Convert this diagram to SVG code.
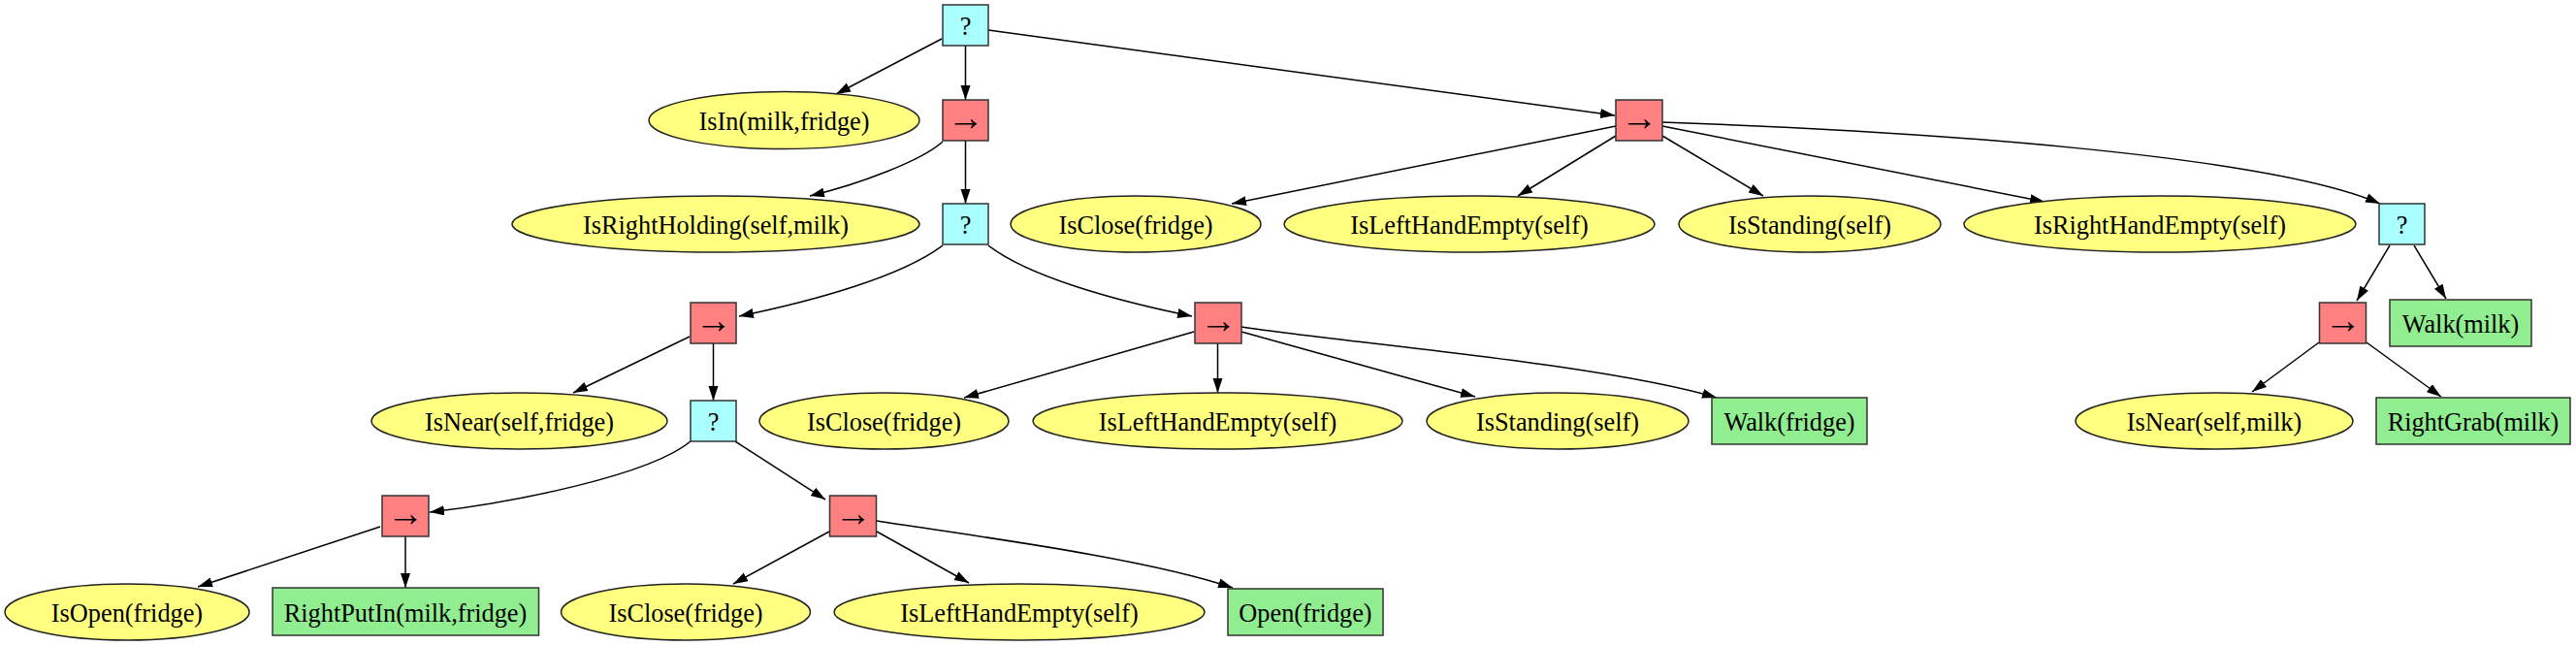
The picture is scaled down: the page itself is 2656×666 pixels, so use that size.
<svg xmlns="http://www.w3.org/2000/svg" width="2656" height="666" viewBox="0 0 2656 666">
<defs>
<marker id="ah" markerUnits="userSpaceOnUse" markerWidth="16" markerHeight="12" refX="15" refY="5" orient="auto">
<path d="M0,0 L15,5 L0,10 z" fill="#000"/>
</marker>
<style>
.sel{fill:#aaffff;stroke:#333;stroke-width:1.5}
.seq{fill:#ff8080;stroke:#333;stroke-width:1.5}
.cond{fill:#ffff80;stroke:#222;stroke-width:1.5}
.act{fill:#90ee90;stroke:#333;stroke-width:1.5}
.ar{font-size:38px}
#edges path{fill:none;stroke:#000;stroke-width:1.5;marker-end:url(#ah)}
</style>
</defs>
<rect width="2656" height="666" fill="#fff"/>
<g id="edges">
<path d="M971,40 L862,97"/>
<path d="M995.5,47 L995.5,103"/>
<path d="M1019,31 L1665,119"/>
<path d="M972,146 C950,166 885,190 835,202"/>
<path d="M995.5,145 L995.5,210"/>
<path d="M1666,130 L1270,210"/>
<path d="M1666,140 L1565,202"/>
<path d="M1714,140 L1818,202"/>
<path d="M1714,130 L2108,208"/>
<path d="M1714,126 C1980,135 2340,160 2454,210"/>
<path d="M972,253 C930,285 840,310 762,326"/>
<path d="M1019,253 C1060,285 1150,310 1229,326"/>
<path d="M711,347 L591,405"/>
<path d="M735.5,354 L735.5,413"/>
<path d="M1231,342 L994,410"/>
<path d="M1255.5,353 L1255.5,405"/>
<path d="M1280,342 L1521,409"/>
<path d="M1280,337 C1400,355 1650,375 1770,410"/>
<path d="M2464,253 L2430,310"/>
<path d="M2489,253 L2522,308"/>
<path d="M2391,353 L2322,404"/>
<path d="M2440,353 L2517,409"/>
<path d="M712,455 C670,490 530,518 443,528"/>
<path d="M758,455 L851,515"/>
<path d="M392,543 L204,605"/>
<path d="M418,553 L418,606"/>
<path d="M855,548 L756,602"/>
<path d="M904,548 L999,601"/>
<path d="M904,537 C1000,552 1180,575 1271,606"/>
</g>
<g id="nodes" font-family="'Liberation Serif', 'DejaVu Serif', serif" font-size="26.3" text-anchor="middle" fill="#000">
<g id="sel_root"><rect class="sel" x="972" y="5" width="47" height="42"/><text x="995.5" y="36">?</text></g>
<g id="cond_isin"><ellipse class="cond" cx="808.5" cy="124" rx="139.5" ry="29.5"/><text x="808.5" y="134">IsIn(milk,fridge)</text></g>
<g id="seq1"><rect class="seq" x="972" y="103" width="47" height="42"/><text class="ar" x="995.5" y="134">→</text></g>
<g id="seq2"><rect class="seq" x="1666" y="103" width="48" height="42"/><text class="ar" x="1690" y="134">→</text></g>
<g id="cond_rightholding"><ellipse class="cond" cx="738" cy="231" rx="210" ry="29"/><text x="738" y="241">IsRightHolding(self,milk)</text></g>
<g id="sel2"><rect class="sel" x="972" y="210" width="47" height="42"/><text x="995.5" y="241">?</text></g>
<g id="cond_isclose1"><ellipse class="cond" cx="1171" cy="231" rx="129" ry="29"/><text x="1171" y="241">IsClose(fridge)</text></g>
<g id="cond_lefthand1"><ellipse class="cond" cx="1515" cy="231" rx="191" ry="29"/><text x="1515" y="241">IsLeftHandEmpty(self)</text></g>
<g id="cond_standing1"><ellipse class="cond" cx="1866" cy="231" rx="135" ry="29"/><text x="1866" y="241">IsStanding(self)</text></g>
<g id="cond_righthand"><ellipse class="cond" cx="2227" cy="231" rx="202" ry="29"/><text x="2227" y="241">IsRightHandEmpty(self)</text></g>
<g id="sel3"><rect class="sel" x="2453" y="210" width="47" height="42"/><text x="2476.5" y="241">?</text></g>
<g id="seq3"><rect class="seq" x="712" y="312" width="47" height="42"/><text class="ar" x="735.5" y="343">→</text></g>
<g id="seq4"><rect class="seq" x="1232" y="312" width="48" height="42"/><text class="ar" x="1256" y="343">→</text></g>
<g id="seq5"><rect class="seq" x="2391.5" y="312" width="48" height="42"/><text class="ar" x="2415.5" y="343">→</text></g>
<g id="act_walkmilk"><rect class="act" x="2464" y="309" width="146" height="48"/><text x="2537" y="343">Walk(milk)</text></g>
<g id="cond_isnear_fridge"><ellipse class="cond" cx="535.5" cy="434" rx="152.5" ry="29"/><text x="535.5" y="444">IsNear(self,fridge)</text></g>
<g id="sel4"><rect class="sel" x="712" y="413" width="47" height="42"/><text x="735.5" y="444">?</text></g>
<g id="cond_isclose2"><ellipse class="cond" cx="911.5" cy="434" rx="128.5" ry="29"/><text x="911.5" y="444">IsClose(fridge)</text></g>
<g id="cond_lefthand2"><ellipse class="cond" cx="1255.5" cy="434" rx="190.5" ry="29"/><text x="1255.5" y="444">IsLeftHandEmpty(self)</text></g>
<g id="cond_standing2"><ellipse class="cond" cx="1606" cy="434" rx="135" ry="29"/><text x="1606" y="444">IsStanding(self)</text></g>
<g id="act_walkfridge"><rect class="act" x="1765" y="410" width="160" height="48"/><text x="1845" y="444">Walk(fridge)</text></g>
<g id="cond_isnear_milk"><ellipse class="cond" cx="2283" cy="434" rx="143" ry="29"/><text x="2283" y="444">IsNear(self,milk)</text></g>
<g id="act_rightgrab"><rect class="act" x="2450" y="410" width="200" height="48"/><text x="2550" y="444">RightGrab(milk)</text></g>
<g id="seq6"><rect class="seq" x="394" y="511" width="48" height="42"/><text class="ar" x="418" y="542">→</text></g>
<g id="seq7"><rect class="seq" x="855.5" y="511" width="48" height="42"/><text class="ar" x="879.5" y="542">→</text></g>
<g id="cond_isopen"><ellipse class="cond" cx="131" cy="631" rx="126" ry="29"/><text x="131" y="641">IsOpen(fridge)</text></g>
<g id="act_rightputin"><rect class="act" x="281" y="606" width="274.5" height="49"/><text x="418" y="641">RightPutIn(milk,fridge)</text></g>
<g id="cond_isclose3"><ellipse class="cond" cx="707" cy="631" rx="128.5" ry="29"/><text x="707" y="641">IsClose(fridge)</text></g>
<g id="cond_lefthand3"><ellipse class="cond" cx="1051" cy="631" rx="191" ry="29"/><text x="1051" y="641">IsLeftHandEmpty(self)</text></g>
<g id="act_open"><rect class="act" x="1266" y="607" width="160" height="48"/><text x="1346" y="641">Open(fridge)</text></g>
</g>
</svg>
